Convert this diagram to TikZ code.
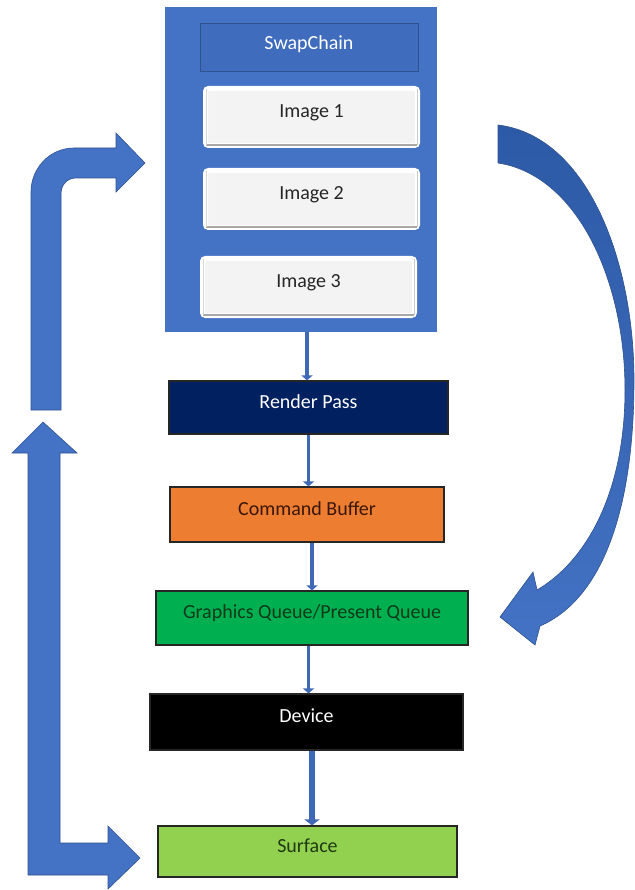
\documentclass[tikz,border=0pt]{standalone}
\usepackage{fontspec}
\setmainfont{Carlito}
\usetikzlibrary{arrows.meta}

\definecolor{bluefill}{HTML}{4472C4}
\definecolor{blueedge}{HTML}{2F528F}
\definecolor{bluedeep}{HTML}{2D5AA6}
\definecolor{hdrfill}{HTML}{3F6CBD}
\definecolor{navyfill}{HTML}{002060}
\definecolor{orangefill}{HTML}{ED7D31}
\definecolor{greenfill}{HTML}{00B050}
\definecolor{limefill}{HTML}{92D050}
\definecolor{btnfill}{HTML}{F3F3F3}
\definecolor{btnshade}{HTML}{A8A8A8}
\definecolor{flowblue}{HTML}{3F69B6}
\definecolor{brownink}{HTML}{3A1606}
\definecolor{greenink}{HTML}{0E3A1A}
\definecolor{limeink}{HTML}{1F3A10}
\definecolor{greyink}{HTML}{262626}

\begin{document}
\begin{tikzpicture}[x=1pt,y=-1pt,
  lbl/.style={font=\fontsize{20}{24}\selectfont, text height=12pt, text depth=11pt},
  stage/.style={lbl, inner sep=0pt, draw=black!85, line width=1.2pt},
  button/.style={lbl, text=greyink, inner sep=0pt, fill=btnfill, draw=white,
    line width=5pt, rounded corners=3pt, minimum width=212pt, minimum height=57pt},
  flow/.style={draw=flowblue, line width=3.5pt, -{Triangle[width=11pt,length=5pt]}},
  blockarrow/.style={fill=bluefill, draw=blueedge, line width=0.6pt}]

\useasboundingbox (0,0) rectangle (634,890);
\fill[white] (0,0) rectangle (634,890);

% swap chain container with its header and images
\node[fill=bluefill, minimum width=272pt, minimum height=325pt, inner sep=0pt] (sc) at (301,169.5) {};
\node[lbl, text=white, fill=hdrfill, draw=blueedge, line width=0.8pt, inner sep=0pt,
  minimum width=218pt, minimum height=48pt, text height=13pt, text depth=7pt] (hdr) at (309,47) {SwapChain};
\node[button] (img1) at (311.5,117) {Image 1};
\node[button] (img2) at (311.5,199) {Image 2};
\node[button] (img3) at (308.5,287) {Image 3};
\foreach \b in {img1,img2,img3}{
  \draw[btnshade, line width=1.6pt] ([shift={(3,-3)}]\b.south west) -- ([shift={(-3,-3)}]\b.south east);
  \draw[btnshade!60, line width=1pt] ([shift={(-3,3)}]\b.north east) -- ([shift={(-3,-3)}]\b.south east);
  \draw[btnshade!45, line width=1pt] ([shift={(3,3)}]\b.north west) -- ([shift={(3,-3)}]\b.south west);
}

% pipeline stages
\node[stage, fill=navyfill, text=white, minimum width=279pt, minimum height=53pt] (rp) at (308.5,407.5) {Render Pass};
\node[stage, fill=orangefill, text=brownink, minimum width=274pt, minimum height=55pt] (cb) at (307,514.5) {Command Buffer};
\node[stage, fill=greenfill, text=greenink, minimum width=312pt, minimum height=54pt] (gq) at (312,618) {Graphics Queue/Present Queue};
\node[stage, fill=black, text=white, minimum width=313pt, minimum height=56pt] (dev) at (306.5,722) {Device};
\node[stage, fill=limefill, text=limeink, minimum width=299pt, minimum height=51pt] (sf) at (307.5,851.5) {Surface};

% connectors between stages
\draw[flow] (sc.south -| cb.center) -- (rp.north -| cb.center);
\draw[flow] (rp.south) -- (rp.south |- cb.north);
\draw[flow] (cb.south -| gq.center) -- (gq.north);
\draw[flow] (gq.south -| rp.center) -- (dev.north -| rp.center);
\draw[flow, line width=5.5pt, -{Triangle[width=15pt,length=6pt]}] (dev.south -| gq.center) -- (sf.north -| gq.center);

% bent arrow rising back into the swap chain
\path[blockarrow] (31,410) -- (31,192) .. controls (31,168) and (50,148) .. (74,148)
  -- (116,148) -- (116,133) -- (145,163) -- (116,192) -- (116,178) -- (76,178)
  .. controls (67,178) and (61,185) .. (61,194) -- (61,410) -- cycle;

% double-headed L arrow beside the stages
\path[blockarrow] (28,453) -- (12,453) -- (43,422) -- (77,453) -- (60,453) -- (60,843)
  -- (108,843) -- (108,826) -- (140,858) -- (108,889) -- (108,875) -- (28,875) -- cycle;

% curved arrow from the swap chain down to the queue
\path[draw=blueedge, line width=0.6pt, top color=bluedeep, bottom color=bluefill]
  (498,125) .. controls (588,136) and (634,262) .. (634,380)
  .. controls (634,515) and (600,600) .. (540,626)
  -- (535,645) -- (500,617) -- (533,572) -- (537,590)
  .. controls (588,560) and (625,490) .. (625,390)
  .. controls (625,280) and (577,175) .. (498,163) -- cycle;

\end{tikzpicture}
\end{document}
